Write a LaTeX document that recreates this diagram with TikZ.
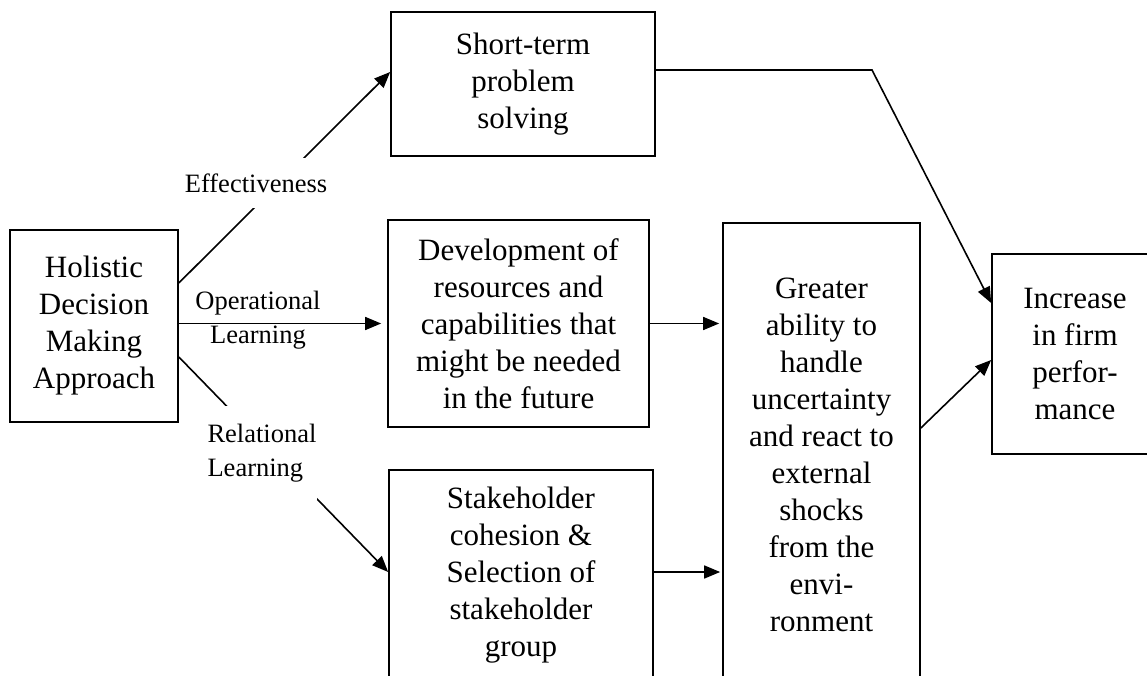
\documentclass[tikz,border=0pt]{standalone}
\usepackage{fontspec}
\setmainfont{Liberation Serif}
\usetikzlibrary{arrows.meta,calc}
\begin{document}
\begin{tikzpicture}[x=1pt,y=-1pt,
  box/.style={draw, line width=1.7pt, align=center, inner sep=0pt,
              font=\fontsize{31}{37}\selectfont},
  lab/.style={font=\fontsize{26.5}{34}\selectfont, inner sep=1pt},
  arr/.style={line width=1.6pt, -{Triangle[length=16pt,width=13pt]}},
  ln/.style={line width=1.6pt}]
\useasboundingbox (0,0) rectangle (1147,676);
\fill[white] (0,0) rectangle (1147,676);
\clip (0,0) rectangle (1147,676);

% boxes
\node[box, minimum width=168pt, minimum height=192pt] (hol) at (94,326)
  {Holistic\\Decision\\Making\\Approach};
\node[box, minimum width=264pt, minimum height=144pt] (st) at (523,84)
  {Short-term\\problem\\solving};
\node[box, minimum width=261pt, minimum height=207pt] (dev) at (518.5,323.5)
  {Development of\\resources and\\capabilities that\\might be needed\\in the future};
\node[box, minimum width=264pt, minimum height=211pt] (stk) at (521,575.5)
  {Stakeholder\\cohesion \&\\Selection of\\stakeholder\\group};
\node[box, minimum width=197pt, minimum height=464pt] (gr) at (821.5,455)
  {Greater\\ability to\\handle\\uncertainty\\and react to\\external\\shocks\\from the\\envi-\\ronment};
\node[box, minimum width=166pt, minimum height=200pt] (inc) at (1075,354)
  {Increase\\in firm\\perfor-\\mance};

\coordinate (bend) at (872,70);

% connectors
\draw[arr] ($(hol.east)+(0,-43)$) -- ($(st.west)+(0,-12)$);
\draw[arr] (hol.east |- dev.west) -- ($(dev.west)+(-6,0)$);
\draw[arr] ($(hol.east)+(0,31)$) -- ($(stk.west)+(0,-3.5)$);
\draw[arr] (dev.east) -- ($(dev.east -| gr.west)+(-3,0)$);
\draw[arr] ($(stk.east)+(0,-3.5)$) -- ($(stk.east -| gr.west)+(-2,-3.5)$);
\draw[arr] ($(st.east)+(0,-14)$) -- (bend) -- ($(inc.west)+(0,-51)$);
\draw[arr] ($(gr.east)+(0,-27)$) -- ($(inc.west)+(0,6)$);

% labels
\node[lab, fill=white, minimum height=50pt] (eff) at (256,183) {Effectiveness};
\node[lab, align=center] (ope) at (258,320) {Operational\\Learning};
\node[lab, fill=white, align=left, minimum height=94pt] (rel) at (262,453) {Relational\\Learning};
\end{tikzpicture}
\end{document}
